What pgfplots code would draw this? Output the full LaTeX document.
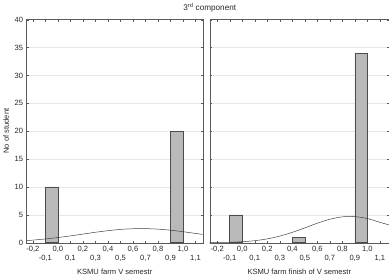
\documentclass[border=0pt]{standalone}
\usepackage{pgfplots}
\pgfplotsset{compat=1.18}
\usepackage{fontspec}
\setmainfont{Liberation Sans}
\pgfplotsset{
  panel/.style={
    scale only axis, height=223bp,
    ymin=0, ymax=40,
    xtick={-0.2,0,0.2,0.4,0.6,0.8,1.0},
    xticklabels={{-0,2},{0,0},{0,2},{0,4},{0,6},{0,8},{1,0}},
    extra x ticks={-0.1,0.1,0.3,0.5,0.7,0.9,1.1},
    extra x tick labels={{-0,1},{0,1},{0,3},{0,5},{0,7},{0,9},{1,1}},
    extra x tick style={tick label style={yshift=-9bp}},
    ytick={0,5,...,40},
    ymajorgrids, grid style={gray!18},
    axis line style={black!65},
    tick style={black!65},
    major tick length=2bp,
    tick label style={font=\fontsize{7.6}{9}\selectfont, text=black!85},
    label style={font=\fontsize{7.6}{9}\selectfont, text=black!85},
    /pgf/number format/assume math mode=true,
    xlabel style={at={(axis description cs:0.5,0)}, anchor=north, yshift=-23bp},
  },
  bars/.style={ybar, bar width=0.1, bar shift=0pt, fill=gray!55, draw=black!70, line width=0.5pt},
  curve/.style={smooth, black!75, line width=0.5pt, mark=none},
}
\begin{document}
\begin{tikzpicture}
\begin{axis}[panel, width=176bp, xmin=-0.25, xmax=1.158,
  xlabel={KSMU farm V semestr}, ylabel={No of student},
  ylabel style={yshift=-1bp}]
\addplot[bars] coordinates {(-0.05,10) (0.95,20)};
\addplot[curve] coordinates {
(-0.25,0.38) (-0.2,0.47) (-0.1,0.68) (0,0.93) (0.1,1.23) (0.2,1.55) (0.3,1.88)
(0.4,2.16) (0.5,2.39) (0.6,2.51) (0.7,2.53) (0.8,2.44) (0.9,2.25) (1.0,1.98)
(1.1,1.67) (1.158,1.50)};
\end{axis}
\begin{axis}[panel, at={(183bp,0)}, width=179bp, xmin=-0.26, xmax=1.172,
  yticklabels={}, xlabel={KSMU farm finish of V semestr}]
\addplot[bars] coordinates {(-0.05,5) (0.45,1) (0.95,34)};
\addplot[curve] coordinates {
(-0.26,0.02) (-0.2,0.034) (-0.1,0.082) (0,0.18) (0.1,0.37) (0.2,0.69) (0.3,1.19)
(0.4,1.86) (0.5,2.66) (0.6,3.50) (0.7,4.21) (0.8,4.64) (0.9,4.69) (1.0,4.34)
(1.1,3.67) (1.172,3.20)};
\end{axis}
\node[font=\fontsize{8.2}{10}\selectfont, text=black!85] at (183bp,235bp) {3\textsuperscript{rd} component};
\end{tikzpicture}
\end{document}
